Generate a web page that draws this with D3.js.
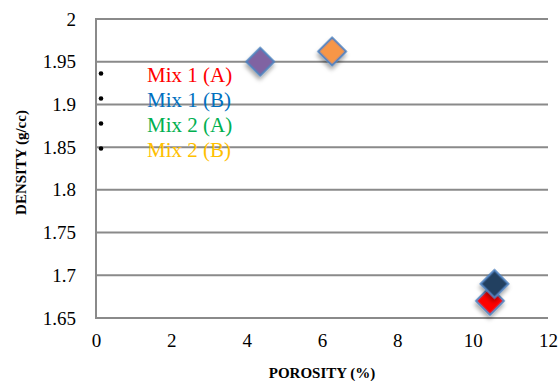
<!DOCTYPE html>
<html>
<head>
<meta charset="utf-8">
<script src="https://cdn.jsdelivr.net/npm/d3@7"></script>
<style>
  html, body { margin: 0; padding: 0; background: #fff; }
  svg { display: block; }
  svg text { font-family: "Liberation Serif", Tinos, "DejaVu Serif", serif; }
</style>
</head>
<body>
<svg id="chart" width="560" height="381"></svg>
<script>
// Series: one point per mix
const seriesNames = ["Mix 1 (A)", "Mix 1 (B)", "Mix 2 (A)", "Mix 2 (B)"];
const porosity   = [10.46, 10.58, 4.36, 6.27];
const density    = [1.670, 1.690, 1.950, 1.962];
const markerFill = ["#FF0000", "#243F60", "#8064A2", "#F79646"];
const labelColor = ["#FF0000", "#0070C0", "#00B050", "#FFC000"];

const xTicks = [0, 2, 4, 6, 8, 10, 12];
const yTicks = [1.65, 1.7, 1.75, 1.8, 1.85, 1.9, 1.95, 2];

const svg = d3.select("#chart");
const plotL = 96, plotR = 548, plotT = 19, plotB = 318;

const x = d3.scaleLinear().domain([0, 12]).range([plotL, plotR]);
const y = d3.scaleLinear().domain([1.65, 2]).range([plotB, plotT]);

const defs = svg.append("defs");
const f = defs.append("filter").attr("id", "shadow")
  .attr("x", "-50%").attr("y", "-50%").attr("width", "200%").attr("height", "200%");
f.append("feDropShadow").attr("dx", 2).attr("dy", 3).attr("stdDeviation", 2)
  .attr("flood-color", "#000").attr("flood-opacity", 0.35);

// horizontal gridlines
svg.append("g").selectAll("line").data(yTicks).join("line")
  .attr("x1", plotL).attr("x2", plotR)
  .attr("y1", d => y(d)).attr("y2", d => y(d))
  .attr("stroke", "#8a8a8a").attr("stroke-width", 2);

// left axis line
svg.append("line").attr("x1", plotL).attr("x2", plotL)
  .attr("y1", plotT - 1).attr("y2", plotB + 1)
  .attr("stroke", "#8a8a8a").attr("stroke-width", 2);

// tick labels via axes
const yAxis = svg.append("g").attr("transform", `translate(${plotL},0)`)
  .call(d3.axisLeft(y).tickValues(yTicks).tickSize(0).tickPadding(20)
    .tickFormat(d => String(+d.toFixed(2))));
const xAxis = svg.append("g").attr("transform", `translate(0,${plotB})`)
  .call(d3.axisBottom(x).tickValues(xTicks).tickSize(0).tickPadding(16));
[yAxis, xAxis].forEach(a => {
  a.attr("font-family", null);
  a.select(".domain").remove();
  a.selectAll("text").attr("font-size", 19).attr("fill", "#000");
});

// axis titles
svg.append("text").attr("x", (plotL + plotR) / 2).attr("y", 378)
  .attr("text-anchor", "middle")
  .attr("font-weight", "bold").attr("font-size", 15).text("POROSITY (%)");
svg.append("text")
  .attr("transform", `translate(26,${(plotT + plotB) / 2 - 6}) rotate(-90)`)
  .attr("text-anchor", "middle")
  .attr("font-weight", "bold").attr("font-size", 15).text("DENSITY (g/cc)");

// legend-style labels with bullets
const idx = d3.range(seriesNames.length);
const leg = svg.append("g");
leg.selectAll("circle").data(idx).join("circle")
  .attr("cx", 101).attr("cy", i => 73.5 + i * 25).attr("r", 2.3).attr("fill", "#000");
leg.selectAll("text").data(idx).join("text")
  .attr("x", 147).attr("y", i => 82 + i * 25)
  .attr("font-size", 21).attr("fill", i => labelColor[i])
  .text(i => seriesNames[i]);

// diamond markers
const diamond = d3.symbol().type(d3.symbolSquare).size(380);
svg.append("g").selectAll("path").data(idx).join("path")
  .attr("d", diamond)
  .attr("transform", i => `translate(${x(porosity[i])},${y(density[i])}) rotate(45)`)
  .attr("fill", i => markerFill[i])
  .attr("stroke", "#4F81BD").attr("stroke-width", 2)
  .attr("filter", "url(#shadow)");
</script>
</body>
</html>
